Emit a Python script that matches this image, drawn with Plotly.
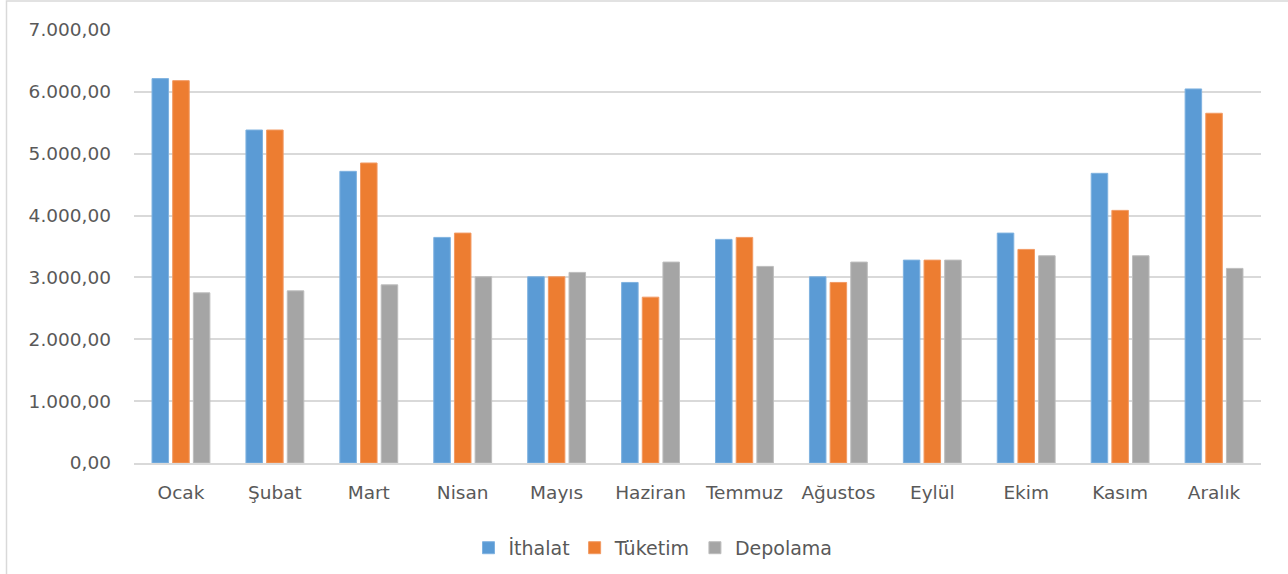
import plotly.graph_objects as go

months = ["Ocak", "Şubat", "Mart", "Nisan", "Mayıs", "Haziran", "Temmuz",
          "Ağustos", "Eylül", "Ekim", "Kasım", "Aralık"]
ithalat = [6214, 5383, 4715, 3647, 3010, 2919, 3615, 3010, 3280, 3717, 4683, 6047]
tuketim = [6181, 5383, 4850, 3717, 3010, 2681, 3647, 2919, 3280, 3453, 4084, 5654]
depolama = [2751, 2783, 2880, 3010, 3081, 3248, 3178, 3248, 3280, 3350, 3350, 3146]

series = [("İthalat", ithalat, "#5B9BD5", "#7FB2E0"),
          ("Tüketim", tuketim, "#ED7D31", "#F29A63"),
          ("Depolama", depolama, "#A5A5A5", "#BDBDBD")]

fig = go.Figure()
for name, vals, col, edge in series:
    fig.add_trace(go.Bar(x=months, y=vals, name=name,
                         marker=dict(color=col, line=dict(color=edge, width=1))))

font = dict(family="DejaVu Sans", size=18.5, color="#595959")
legend_font = dict(family="DejaVu Sans", size=19, color="#595959")
fig.update_layout(
    width=1288, height=574,
    margin=dict(l=134, r=27, t=30, b=111, autoexpand=False),
    paper_bgcolor="white", plot_bgcolor="white",
    separators=",.",
    barmode="group", bargap=0.34, bargroupgap=0.2,
    font=font,
    showlegend=True,
    legend=dict(orientation="h", x=(653 - 134) / 1127, xanchor="center",
                y=-0.196, yanchor="middle",
                font=legend_font, itemwidth=30, traceorder="normal"),
    xaxis=dict(showgrid=False, showline=True, linecolor="#D9D9D9", linewidth=1.5,
               ticks="", tickfont=font, ticklabelstandoff=12, automargin=False),
    yaxis=dict(range=[0, 7000], dtick=1000, tickformat=",.2f", showgrid=True,
               gridcolor="#D9D9D9", gridwidth=1.5, zeroline=False, showline=False,
               ticks="", tickfont=font, ticklabelstandoff=22, automargin=False),
    shapes=[dict(type="rect", xref="paper", yref="paper",
                 x0=(6.5 - 134) / 1127, x1=(1300 - 134) / 1127,
                 y0=(463 - 590) / 433, y1=(463 - 1) / 433,
                 line=dict(color="#D9D9D9", width=1.5), layer="below")],
)

fig.write_html("out.html", config={"displayModeBar": False},
               post_script="document.body.style.margin='0';document.body.style.overflow='hidden';")
